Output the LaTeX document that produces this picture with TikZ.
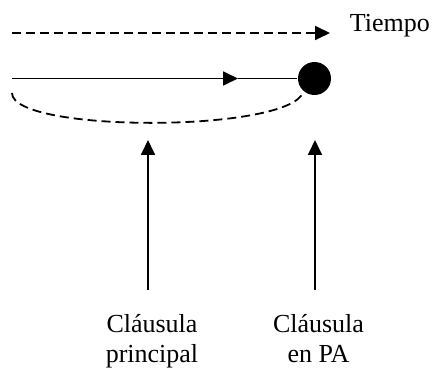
\documentclass[tikz,border=0pt]{standalone}
\usepackage{fontspec}
\setmainfont{Liberation Serif}
\usetikzlibrary{arrows.meta}
\begin{document}
\begin{tikzpicture}[x=1pt,y=-1pt,line width=1.8pt,
  tip/.style={-{Triangle[length=15pt,width=14pt]}},
  dsh/.style={dash pattern=on 9pt off 5pt},
  lbl/.style={font=\fontsize{26}{30}\selectfont,align=center,inner sep=0pt}]
\useasboundingbox (0,0) rectangle (432,369);
% top dashed time arrow
\coordinate (ts) at (12,33);
\coordinate (te) at (330,33);
\draw[dsh,tip] (ts) -- (te);
\node[lbl,anchor=base west] (tiempo) at (349,32) {Tiempo};
% solid line with mid arrow and dot
\node[circle,fill,inner sep=0pt,minimum size=33pt] (dot) at (314.5,78.5) {};
\coordinate (ls) at (12,78.5);
\coordinate (mid) at (238,78.5);
\draw[tip] (ls) -- (mid);
\draw (mid) -- (dot.west);
% dashed curve
\coordinate (cs) at (12,93);
\draw[dsh] (cs) .. controls (12,133) and (290,133) .. (dot.230);
% labels
\node[lbl,anchor=north] (cp) at (152,314) {Cláusula\\principal};
\node[lbl,anchor=north] (ca) at (318.5,314) {Cláusula\\en PA};
% vertical arrows
\coordinate (b1) at (148,290);
\coordinate (t1) at (148,140);
\coordinate (b2) at (315,290);
\coordinate (t2) at (315,140);
\draw[tip] (b1) -- (t1);
\draw[tip] (b2) -- (t2);
\end{tikzpicture}
\end{document}
